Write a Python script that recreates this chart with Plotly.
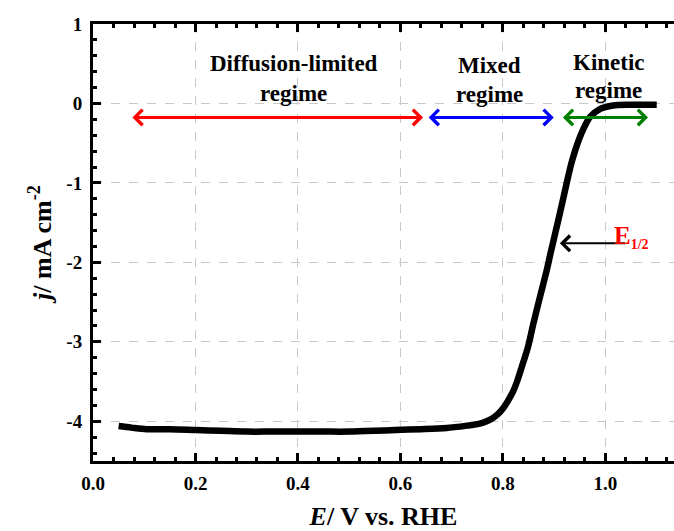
import plotly.graph_objects as go

# Data (LSV curve)
E = [0.05, 0.075, 0.105, 0.15, 0.20, 0.25, 0.30, 0.35, 0.40, 0.45, 0.50, 0.55, 0.59, 0.64, 0.69,
     0.736, 0.742, 0.76, 0.775, 0.79, 0.801, 0.81, 0.820, 0.828, 0.8365, 0.849, 0.859, 0.872, 0.885,
     0.893, 0.901, 0.9145, 0.924, 0.934, 0.944, 0.957, 0.970, 0.989, 1.015, 1.048, 1.075, 1.10]
j = [-4.06, -4.08, -4.10, -4.10, -4.11, -4.12, -4.13, -4.13, -4.13, -4.13, -4.13, -4.12, -4.11, -4.10, -4.085,
     -4.05, -4.045, -4.02, -3.98, -3.91, -3.83, -3.74, -3.62, -3.49, -3.32, -3.06, -2.78, -2.44, -2.11,
     -1.88, -1.66, -1.285, -1.01, -0.74, -0.53, -0.32, -0.17, -0.07, -0.025, -0.016, -0.015, -0.015]

x_ticks = [0.0, 0.2, 0.4, 0.6, 0.8, 1.0]
x_ticktext = ["0.0", "0.2", "0.4", "0.6", "0.8", "1.0"]
y_ticks = [1, 0, -1, -2, -3, -4]
y_ticktext = ["1", "0", "-1", "-2", "-3", "-4"]

# Regime annotations
regime_names = [["Diffusion-limited", "regime"], ["Mixed", "regime"], ["Kinetic", "regime"]]
regime_text_x = [0.392, 0.773, 1.006]
regime_text_y1 = [0.50, 0.48, 0.51]
regime_text_y2 = [0.13, 0.115, 0.165]
regime_arrow_x0 = [0.074, 0.652, 0.914]
regime_arrow_x1 = [0.644, 0.899, 1.083]
regime_arrow_y = -0.176
regime_colors = ["#ff0000", "#0000ff", "#008000"]

e_half_tail = (1.041, -1.76)
e_half_head = (0.911, -1.76)

FONT = "Liberation Serif"

fig = go.Figure()
fig.add_trace(go.Scatter(x=E, y=j, mode="lines",
                         line=dict(color="black", width=6.5, shape="spline", smoothing=0.8),
                         showlegend=False, hoverinfo="skip"))

annotations = []
for names, tx, ty1, ty2, x0, x1, col in zip(regime_names, regime_text_x, regime_text_y1,
                                            regime_text_y2, regime_arrow_x0, regime_arrow_x1,
                                            regime_colors):
    for txt, ty in ((names[0], ty1), (names[1], ty2)):
        annotations.append(dict(x=tx, y=ty, xref="x", yref="y", text="<b>%s</b>" % txt,
                                showarrow=False, font=dict(family=FONT, size=23, color="black"),
                                xanchor="center", yanchor="middle"))
    annotations.append(dict(x=x1, y=regime_arrow_y, ax=x0, ay=regime_arrow_y,
                            xref="x", yref="y", axref="x", ayref="y", text="",
                            showarrow=True, arrowside="end+start", arrowhead=4,
                            startarrowhead=4, arrowsize=1, startarrowsize=1,
                            arrowwidth=3, arrowcolor=col))

annotations.append(dict(x=e_half_head[0], y=e_half_head[1], ax=e_half_tail[0], ay=e_half_tail[1],
                        xref="x", yref="y", axref="x", ayref="y", text="",
                        showarrow=True, arrowhead=4, arrowsize=1.5, arrowwidth=2,
                        arrowcolor="black"))
annotations.append(dict(x=1.013, y=-1.68, xref="x", yref="y",
                        text="<b>E<sub><span style='font-size:14px'>1/2</span></sub></b>",
                        showarrow=False,
                        font=dict(family=FONT, size=25, color="#ff0000"),
                        xanchor="left", yanchor="middle"))

fig.update_layout(
    width=674, height=531,
    margin=dict(l=93, r=0, t=24, b=70),
    paper_bgcolor="white", plot_bgcolor="white",
    font=dict(family=FONT, size=16, color="black"),
    annotations=annotations,
    xaxis=dict(range=[0, 1.1337], tickvals=x_ticks, ticktext=x_ticktext,
               ticks="inside", ticklen=8, tickwidth=2.5, tickcolor="black",
               showline=True, linewidth=3, linecolor="black", mirror="ticks",
               showgrid=True, gridcolor="#c8c8c8", griddash="dash", gridwidth=1,
               zeroline=False,
               minor=dict(dtick=0.04, tick0=0, ticks="inside", ticklen=4, tickwidth=2.5,
                          tickcolor="black", showgrid=False),
               tickfont=dict(family=FONT, size=19, color="black", weight="bold"),
               ticklabelstandoff=3,
               title=dict(text="<b><i>E</i>/ V vs. RHE</b>", standoff=16,
                          font=dict(family=FONT, size=26, color="black"))),
    yaxis=dict(range=[-4.5, 1], tickvals=y_ticks, ticktext=y_ticktext,
               ticks="inside", ticklen=8, tickwidth=2.5, tickcolor="black",
               showline=True, linewidth=3, linecolor="black", mirror=False,
               showgrid=True, gridcolor="#c8c8c8", griddash="dash", gridwidth=1,
               zeroline=False,
               minor=dict(dtick=0.2, tick0=0, ticks="inside", ticklen=4, tickwidth=2.5,
                          tickcolor="black", showgrid=False),
               tickfont=dict(family=FONT, size=19, color="black", weight="bold"),
               ticklabelstandoff=4,
               title=dict(text="<b><i>j</i>/ mA cm<sup>-2</sup></b>", standoff=8,
                          font=dict(family=FONT, size=26, color="black"))),
)

fig.write_html("out.html")
